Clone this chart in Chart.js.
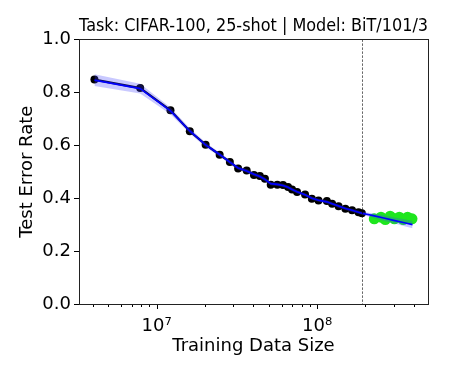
<!DOCTYPE html>
<html>
<head>
<meta charset="utf-8">
<script src="https://cdn.jsdelivr.net/npm/chart.js@4/dist/chart.umd.min.js"></script>
<style>
  html, body { margin: 0; padding: 0; background: #fff; }
  canvas { display: block; }
</style>
</head>
<body>
<canvas id="scalingChart" width="449" height="374"></canvas>
<script>
// observed points (black)
const dataSizes = [4.1e6, 7.9e6, 1.22e7, 1.61e7, 2.02e7, 2.47e7, 2.86e7, 3.22e7, 3.64e7, 4.04e7,
    4.4e7, 4.73e7, 5.14e7, 5.65e7, 6.13e7, 6.59e7, 6.98e7, 7.5e7, 8.41e7, 9.27e7,
    1.02e8, 1.15e8, 1.24e8, 1.36e8, 1.5e8, 1.65e8, 1.81e8, 1.9e8];
const errorRates = [0.848, 0.816, 0.732, 0.653, 0.602, 0.564, 0.537, 0.512, 0.505, 0.488,
    0.484, 0.473, 0.451, 0.451, 0.450, 0.442, 0.433, 0.423, 0.414, 0.398,
    0.391, 0.389, 0.379, 0.369, 0.360, 0.354, 0.347, 0.343];

// fitted curve (blue) + band, extrapolated past the split
const fitSizes = [4.1e6, 7.9e6, 1.22e7, 1.61e7, 2.02e7, 2.47e7, 2.86e7, 3.22e7, 3.64e7, 4.04e7,
    4.4e7, 4.73e7, 5.14e7, 5.65e7, 6.13e7, 6.59e7, 6.98e7, 7.5e7, 8.41e7, 9.27e7,
    1.02e8, 1.15e8, 1.24e8, 1.36e8, 1.5e8, 1.65e8, 1.81e8, 1.9e8,
    2.2e8, 2.6e8, 3.0e8, 3.5e8, 3.93e8];
const fitValues = [0.846, 0.814, 0.730, 0.654, 0.601, 0.565, 0.536, 0.514, 0.503, 0.490,
    0.482, 0.471, 0.455, 0.452, 0.448, 0.441, 0.433, 0.424, 0.413, 0.400,
    0.392, 0.386, 0.379, 0.370, 0.361, 0.354, 0.347, 0.343,
    0.335, 0.325, 0.316, 0.307, 0.300];
const fitLower = [0.824, 0.796, 0.717, 0.644, 0.592, 0.557, 0.528, 0.507, 0.496, 0.483,
    0.475, 0.464, 0.449, 0.446, 0.442, 0.435, 0.427, 0.418, 0.407, 0.394,
    0.386, 0.380, 0.373, 0.364, 0.355, 0.348, 0.341, 0.337,
    0.327, 0.315, 0.305, 0.294, 0.286];
const fitUpper = [0.868, 0.832, 0.743, 0.664, 0.610, 0.573, 0.544, 0.521, 0.510, 0.497,
    0.489, 0.478, 0.461, 0.458, 0.454, 0.447, 0.439, 0.430, 0.419, 0.406,
    0.398, 0.392, 0.385, 0.376, 0.367, 0.360, 0.353, 0.349,
    0.343, 0.335, 0.327, 0.320, 0.314];

// held-out points (green)
const heldSizes = [2.27e8, 2.5e8, 2.66e8, 2.85e8, 3.03e8, 3.25e8, 3.44e8, 3.66e8, 3.9e8];
const heldErrors = [0.322, 0.328, 0.319, 0.332, 0.322, 0.328, 0.319, 0.328, 0.322];

const splitSize = 1.9e8;
const xTickValues = [4e6, 5e6, 6e6, 7e6, 8e6, 9e6, 1e7, 2e7, 3e7, 4e7, 5e7, 6e7, 7e7, 8e7, 9e7,
    1e8, 2e8, 3e8, 4e8];
const xMajorLabels = { 1e7: '10\u2077', 1e8: '10\u2078' };
const yTickValues = [0, 0.2, 0.4, 0.6, 0.8, 1.0];

const FONT = 'DejaVu Sans';
const pts = (xs, ys) => xs.map((x, i) => ({ x: x, y: ys[i] }));

// frame, minor/major x ticks, split line
const framePlugin = {
    id: 'frame',
    afterDraw(chart) {
        const { ctx, chartArea: a, scales } = chart;
        ctx.save();
        // x ticks
        ctx.strokeStyle = '#000';
        ctx.lineWidth = 1;
        xTickValues.forEach(v => {
            const px = Math.round(scales.x.getPixelForValue(v)) + 0.5;
            const len = xMajorLabels[v] ? 5 : 3;
            ctx.beginPath();
            ctx.moveTo(px, a.bottom);
            ctx.lineTo(px, a.bottom + len);
            ctx.stroke();
        });
        // split line
        const sx = Math.round(scales.x.getPixelForValue(splitSize)) + 0.5;
        ctx.strokeStyle = 'rgba(0,0,0,0.75)';
        ctx.lineWidth = 0.8;
        ctx.setLineDash([2.5, 1.5]);
        ctx.beginPath();
        ctx.moveTo(sx, a.top);
        ctx.lineTo(sx, a.bottom);
        ctx.stroke();
        ctx.setLineDash([]);
        // box
        ctx.strokeStyle = '#222';
        ctx.lineWidth = 1;
        ctx.strokeRect(Math.round(a.left) + 0.5, Math.round(a.top) + 0.5,
            Math.round(a.right - a.left), Math.round(a.bottom - a.top));
        ctx.restore();
    }
};

const ctx = document.getElementById('scalingChart').getContext('2d');
new Chart(ctx, {
    type: 'scatter',
    data: {
        datasets: [
            {
                label: 'fit',
                data: pts(fitSizes, fitValues),
                showLine: true, borderColor: '#0000ff', borderWidth: 1.6,
                pointRadius: 0, tension: 0, order: 0
            },
            {
                label: 'upper',
                data: pts(fitSizes, fitUpper),
                showLine: true, borderWidth: 0, pointRadius: 0,
                fill: '+1', backgroundColor: 'rgba(60,60,255,0.28)', order: 1
            },
            {
                label: 'lower',
                data: pts(fitSizes, fitLower),
                showLine: true, borderWidth: 0, pointRadius: 0, order: 1
            },
            {
                label: 'held out',
                data: pts(heldSizes, heldErrors),
                pointRadius: 5.5, pointBackgroundColor: '#1ee61e', pointBorderWidth: 0, order: 2
            },
            {
                label: 'observed',
                data: pts(dataSizes, errorRates),
                showLine: true, borderColor: '#000', borderWidth: 2.2,
                pointRadius: 4, pointBackgroundColor: '#000', pointBorderWidth: 0, order: 3
            }
        ]
    },
    options: {
        responsive: false,
        animation: false,
        devicePixelRatio: 1,
        layout: { padding: { left: 0, right: 21, top: 0, bottom: 0 } },
        plugins: {
            legend: { display: false },
            tooltip: { enabled: false },
            title: {
                display: true,
                fullSize: false,
                text: 'Task: CIFAR-100, 25-shot | Model: BiT/101/3',
                color: '#000',
                font: { family: FONT, size: 17, weight: 'normal' },
                padding: { top: 16, bottom: 3 }
            }
        },
        scales: {
            x: {
                type: 'logarithmic',
                min: 3.285e6, max: 4.906e8,
                bounds: 'data',
                afterBuildTicks: s => { s.ticks = xTickValues.map(v => ({ value: v })); },
                afterFit: s => { s.height = 70; },
                border: { display: false },
                grid: { display: false },
                ticks: {
                    autoSkip: false, maxRotation: 0, padding: 4,
                    color: '#000', font: { family: FONT, size: 18 },
                    callback: v => xMajorLabels[v] || ''
                },
                title: {
                    display: true, text: 'Training Data Size', color: '#000',
                    font: { family: FONT, size: 18 }, padding: { top: 0, bottom: 17 }
                }
            },
            y: {
                min: 0, max: 1,
                afterBuildTicks: s => { s.ticks = yTickValues.map(v => ({ value: v })); },
                afterFit: s => { s.width = 79; },
                border: { display: false },
                grid: { drawOnChartArea: false, drawTicks: true, tickLength: 5, color: '#000' },
                ticks: {
                    padding: 3, color: '#000', font: { family: FONT, size: 18 },
                    callback: v => v.toFixed(1)
                },
                title: {
                    display: true, text: 'Test Error Rate', color: '#000',
                    font: { family: FONT, size: 18 }, padding: { top: 17, bottom: 0 }
                }
            }
        }
    },
    plugins: [framePlugin]
});
</script>
</body>
</html>
